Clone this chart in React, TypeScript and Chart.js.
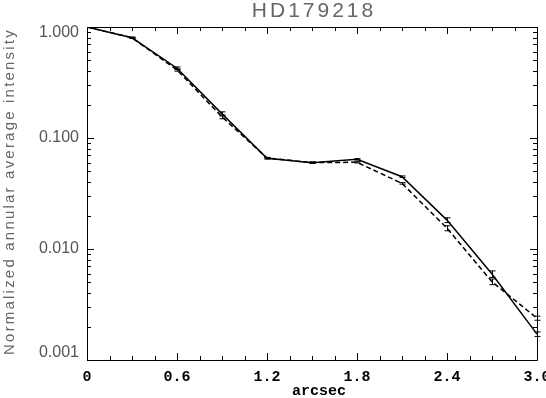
import React, { useEffect, useRef } from "react";
import { Chart, registerables } from "chart.js";

Chart.register(...registerables);

const radii = [0, 0.3, 0.6, 0.9, 1.2, 1.5, 1.8, 2.1, 2.4, 2.7, 3.0];
const solidValues = [1.0, 0.8, 0.425, 0.165, 0.0656, 0.06, 0.0643, 0.0448, 0.0182, 0.00595, 0.00171];
const solidErrors = [0, 0.01, 0.012, 0.007, 0.001, 0.0008, 0.0009, 0.0007, 0.0009, 0.0004, 0.00008];
const dashedValues = [1.0, 0.8, 0.41, 0.155, 0.066, 0.06, 0.0604, 0.039, 0.0154, 0.00507, 0.00238];
const dashedErrors = [0, 0.009, 0.01, 0.006, 0.0009, 0.0008, 0.0008, 0.0006, 0.0008, 0.0003, 0.0001];

const xMajorTicks = [0, 0.6, 1.2, 1.8, 2.4, 3.0];
const xTickLabels = ["0", "0.6", "1.2", "1.8", "2.4", "3.0"];
const xMinorStep = 0.15;
const yMajorTicks = [0.001, 0.01, 0.1, 1];
const yTickLabels = ["0.001", "0.010", "0.100", "1.000"];

const titleText = "HD179218";
const xTitleText = "arcsec";
const yTitleText = "Normalized annular average intensity";

const framePlugin = {
  id: "idlFrame",
  afterDatasetsDraw(chart: any) {
    const ctx = chart.ctx;
    const xs = chart.scales.x;
    const ys = chart.scales.y;
    ctx.save();
    ctx.strokeStyle = "#000";
    ctx.lineWidth = 1;
    chart.data.datasets.forEach((ds: any) => {
      const errs = ds.errors as number[];
      ds.data.forEach((p: any, i: number) => {
        const e = errs[i];
        if (!e) return;
        const px = Math.round(xs.getPixelForValue(p.x)) + 0.5;
        const y1 = ys.getPixelForValue(p.y - e);
        const y2 = ys.getPixelForValue(p.y + e);
        ctx.beginPath();
        ctx.moveTo(px, y1);
        ctx.lineTo(px, y2);
        ctx.moveTo(px - 3, y1);
        ctx.lineTo(px + 3, y1);
        ctx.moveTo(px - 3, y2);
        ctx.lineTo(px + 3, y2);
        ctx.stroke();
      });
    });
    ctx.restore();
  },
  afterDraw(chart: any) {
    const ctx = chart.ctx;
    const a = chart.chartArea;
    const xs = chart.scales.x;
    const ys = chart.scales.y;
    ctx.save();
    ctx.strokeStyle = "#000";
    ctx.lineWidth = 1;
    ctx.beginPath();
    ctx.rect(Math.round(a.left) + 0.5, Math.round(a.top) + 0.5, Math.round(a.right - a.left), Math.round(a.bottom - a.top));
    ctx.stroke();

    // x ticks (top and bottom), inward
    ctx.beginPath();
    const nMinor = Math.round((xs.max - xs.min) / xMinorStep);
    for (let k = 0; k <= nMinor; k++) {
      const v = xs.min + k * xMinorStep;
      const isMajor = k % 4 === 0;
      const len = isMajor ? 7 : 4;
      const px = Math.round(xs.getPixelForValue(v)) + 0.5;
      ctx.moveTo(px, a.bottom);
      ctx.lineTo(px, a.bottom - len);
      ctx.moveTo(px, a.top);
      ctx.lineTo(px, a.top + len);
    }
    // y ticks (left and right)
    for (let d = -3; d < 0; d++) {
      for (let m = 1; m <= 9; m++) {
        const v = m * Math.pow(10, d);
        const len = m === 1 ? 7 : 4;
        const py = Math.round(ys.getPixelForValue(v)) + 0.5;
        ctx.moveTo(a.left, py);
        ctx.lineTo(a.left + len, py);
        ctx.moveTo(a.right, py);
        ctx.lineTo(a.right - len, py);
      }
    }
    const pTop = Math.round(ys.getPixelForValue(1)) + 0.5;
    ctx.moveTo(a.left, pTop);
    ctx.lineTo(a.left + 7, pTop);
    ctx.moveTo(a.right, pTop);
    ctx.lineTo(a.right - 7, pTop);
    ctx.stroke();

    // y tick labels (kept inside the frame height, as in the original)
    ctx.fillStyle = "#555";
    ctx.textAlign = "right";
    ctx.textBaseline = "middle";
    ctx.font = "16px 'Liberation Sans', sans-serif";
    yMajorTicks.forEach((v, i) => {
      let py = ys.getPixelForValue(v);
      py = Math.min(Math.max(py, a.top + 6), a.bottom - 7);
      ctx.fillText(yTickLabels[i], a.left - 8, py);
    });

    // title
    ctx.fillStyle = "#666";
    ctx.textAlign = "center";
    ctx.font = "21px 'Liberation Sans', sans-serif";
    (ctx as any).letterSpacing = "3px";
    ctx.fillText(titleText, (a.left + a.right) / 2 + 2, 11);

    // y title
    ctx.save();
    ctx.translate(10, (a.top + a.bottom) / 2 - 2);
    ctx.rotate(-Math.PI / 2);
    ctx.fillStyle = "#666";
    ctx.font = "15px 'Liberation Sans', sans-serif";
    (ctx as any).letterSpacing = "2.2px";
    ctx.fillText(yTitleText, 0, 0);
    ctx.restore();

    // x title
    (ctx as any).letterSpacing = "0px";
    ctx.fillStyle = "#000";
    ctx.font = "bold 15px 'Liberation Mono', monospace";
    ctx.fillText(xTitleText, 319, 391);
    ctx.restore();
  },
};

export default function App() {
  const canvasRef = useRef<HTMLCanvasElement | null>(null);

  useEffect(() => {
    if (!canvasRef.current) return;
    const chart = new Chart(canvasRef.current, {
      type: "line",
      data: {
        datasets: [
          {
            label: "solid",
            data: radii.map((r, i) => ({ x: r, y: solidValues[i] })),
            errors: solidErrors,
            borderColor: "#000",
            borderWidth: 1.5,
            pointRadius: 0,
            fill: false,
            tension: 0,
          } as any,
          {
            label: "dashed",
            data: radii.map((r, i) => ({ x: r, y: dashedValues[i] })),
            errors: dashedErrors,
            borderColor: "#000",
            borderWidth: 1.5,
            borderDash: [5, 3],
            pointRadius: 0,
            fill: false,
            tension: 0,
          } as any,
        ],
      },
      options: {
        animation: false,
        responsive: true,
        maintainAspectRatio: false,
        layout: { padding: { top: 27, right: 9, bottom: 0, left: 0 } },
        plugins: {
          legend: { display: false },
          title: { display: false },
          tooltip: { enabled: false },
        },
        scales: {
          x: {
            type: "linear",
            min: 0,
            max: 3,
            grid: { display: false, drawTicks: false },
            border: { display: false },
            afterBuildTicks: (scale: any) => {
              scale.ticks = xMajorTicks.map((v) => ({ value: v }));
            },
            afterFit: (scale: any) => {
              scale.height = 38;
              scale.paddingLeft = 0;
              scale.paddingRight = 0;
            },
            ticks: {
              autoSkip: false,
              maxRotation: 0,
              padding: 8,
              color: "#000",
              font: { family: "'Liberation Mono', monospace", size: 15, weight: "bold" },
              callback: (_v: any, i: number) => xTickLabels[i],
            },
          },
          y: {
            type: "logarithmic",
            min: 0.001,
            max: 1,
            grid: { display: false, drawTicks: false },
            border: { display: false },
            afterBuildTicks: (scale: any) => {
              scale.ticks = yMajorTicks.map((v) => ({ value: v }));
            },
            afterFit: (scale: any) => {
              scale.width = 87;
              scale.paddingTop = 0;
              scale.paddingBottom = 0;
            },
            ticks: {
              display: false,
              autoSkip: false,
              callback: (_v: any, i: number) => yTickLabels[i],
            },
          },
        },
      } as any,
      plugins: [framePlugin],
    });
    return () => chart.destroy();
  }, []);

  return (
    <div style={{ position: "fixed", left: 0, top: 0, width: 546, height: 398, background: "#fff" }}>
      <canvas ref={canvasRef} />
    </div>
  );
}
